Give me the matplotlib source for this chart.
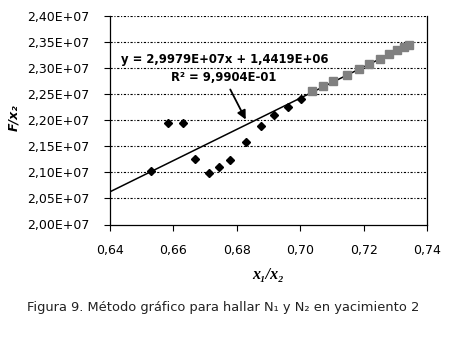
import matplotlib
matplotlib.use("Agg")
import matplotlib.pyplot as plt
import numpy as np

# Data
x_black = [0.6529, 0.6584, 0.6630, 0.6669, 0.6712, 0.6745, 0.6780, 0.6829, 0.6875, 0.6916, 0.6961, 0.7002]
y_black = [2.1035e7, 2.1952e7, 2.1946e7, 2.1265e7, 2.0990e7, 2.1100e7, 2.1246e7, 2.1592e7, 2.1900e7, 2.2100e7, 2.2260e7, 2.2419e7]
x_gray = [0.7038, 0.7071, 0.7105, 0.7147, 0.7185, 0.7218, 0.7252, 0.7281, 0.7306, 0.7327, 0.7342]
y_gray = [2.2562e7, 2.2669e7, 2.2760e7, 2.2881e7, 2.2985e7, 2.3081e7, 2.3177e7, 2.3279e7, 2.3350e7, 2.3413e7, 2.3458e7]
slope = 2.9979e7
intercept = 1.4419e6
fit_x_range = [0.64, 0.7342]

x_ticks = [0.64, 0.66, 0.68, 0.70, 0.72, 0.74]
y_ticks = [2.00e7, 2.05e7, 2.10e7, 2.15e7, 2.20e7, 2.25e7, 2.30e7, 2.35e7, 2.40e7]
x_tick_labels = ["0,64", "0,66", "0,68", "0,70", "0,72", "0,74"]
y_tick_labels = ["2,00E+07", "2,05E+07", "2,10E+07", "2,15E+07", "2,20E+07",
                 "2,25E+07", "2,30E+07", "2,35E+07", "2,40E+07"]

W, H = 454, 337
fig = plt.figure(figsize=(W / 100, H / 100), dpi=100)
ax = fig.add_axes([110 / W, 1 - 224.5 / H, (427 - 110) / W, (224.5 - 16.3) / H])

ax.set_xlim(0.64, 0.74)
ax.set_ylim(2.0e7, 2.4e7)

for yt in y_ticks[1:]:
    ax.axhline(yt, color="black", lw=0.8, ls=(0, (2, 1.5, 1, 1.5)), zorder=1)

fx = np.array(fit_x_range)
ax.plot(fx, slope * fx + intercept, color="black", lw=1.1, zorder=2)
ax.plot(x_black, y_black, ls="none", marker="D", ms=3.6, color="black", zorder=3)
ax.plot(x_gray, y_gray, ls="none", marker="s", ms=5.4, color="#808080", zorder=3)

ax.set_xticks(x_ticks)
ax.set_xticklabels(x_tick_labels)
ax.set_yticks(y_ticks)
ax.set_yticklabels(y_tick_labels)
ax.tick_params(axis="both", direction="out", length=4, width=0.8, labelsize=9,
               colors="black")
ax.tick_params(axis="y", pad=11)
ax.tick_params(axis="x", pad=10)

ax.spines["top"].set_visible(False)
for s in ["left", "bottom", "right"]:
    ax.spines[s].set_linewidth(0.9)
    ax.spines[s].set_color("black")

ax.set_xlabel("x\u2081/x\u2082", family=["Liberation Serif", "DejaVu Serif"],
              fontweight="bold", fontstyle="italic", fontsize=11.5)
ax.xaxis.set_label_coords(0.5, (224.5 - 275) / 208.2, transform=ax.transAxes)
ax.xaxis.label.set_va("center")
ax.set_ylabel("F/x\u2082", fontweight="bold", fontstyle="italic", fontsize=9)
ax.yaxis.set_label_coords((14 - 110) / 317, (224.5 - 118) / 208.2, transform=ax.transAxes)
ax.yaxis.label.set_va("center")

def px2data(px, py):
    return ax.transData.inverted().transform(fig.transFigure.transform((px / W, 1 - py / H)))

p = px2data(225, 59.5)
ax.text(p[0], p[1], "y = 2,9979E+07x + 1,4419E+06", ha="center", va="center",
        fontsize=8.4, fontweight="bold", zorder=5)
p = px2data(224, 77.5)
ax.text(p[0], p[1], "R\u00b2 = 9,9904E-01", ha="center", va="center",
        fontsize=8.4, fontweight="bold", zorder=5)
a0 = px2data(229, 87)
a1 = px2data(247, 122)
ax.annotate("", xy=a1, xytext=a0,
            arrowprops=dict(arrowstyle="-|>", color="black", lw=1.3, mutation_scale=13))

fig.text(223.5 / W, 1 - 308 / H,
         "Figura 9. Método gráfico para hallar N\u2081 y N\u2082 en yacimiento 2",
         ha="center", va="center", fontsize=9.35, color="#222222")

fig.savefig("out.png", dpi=100)
